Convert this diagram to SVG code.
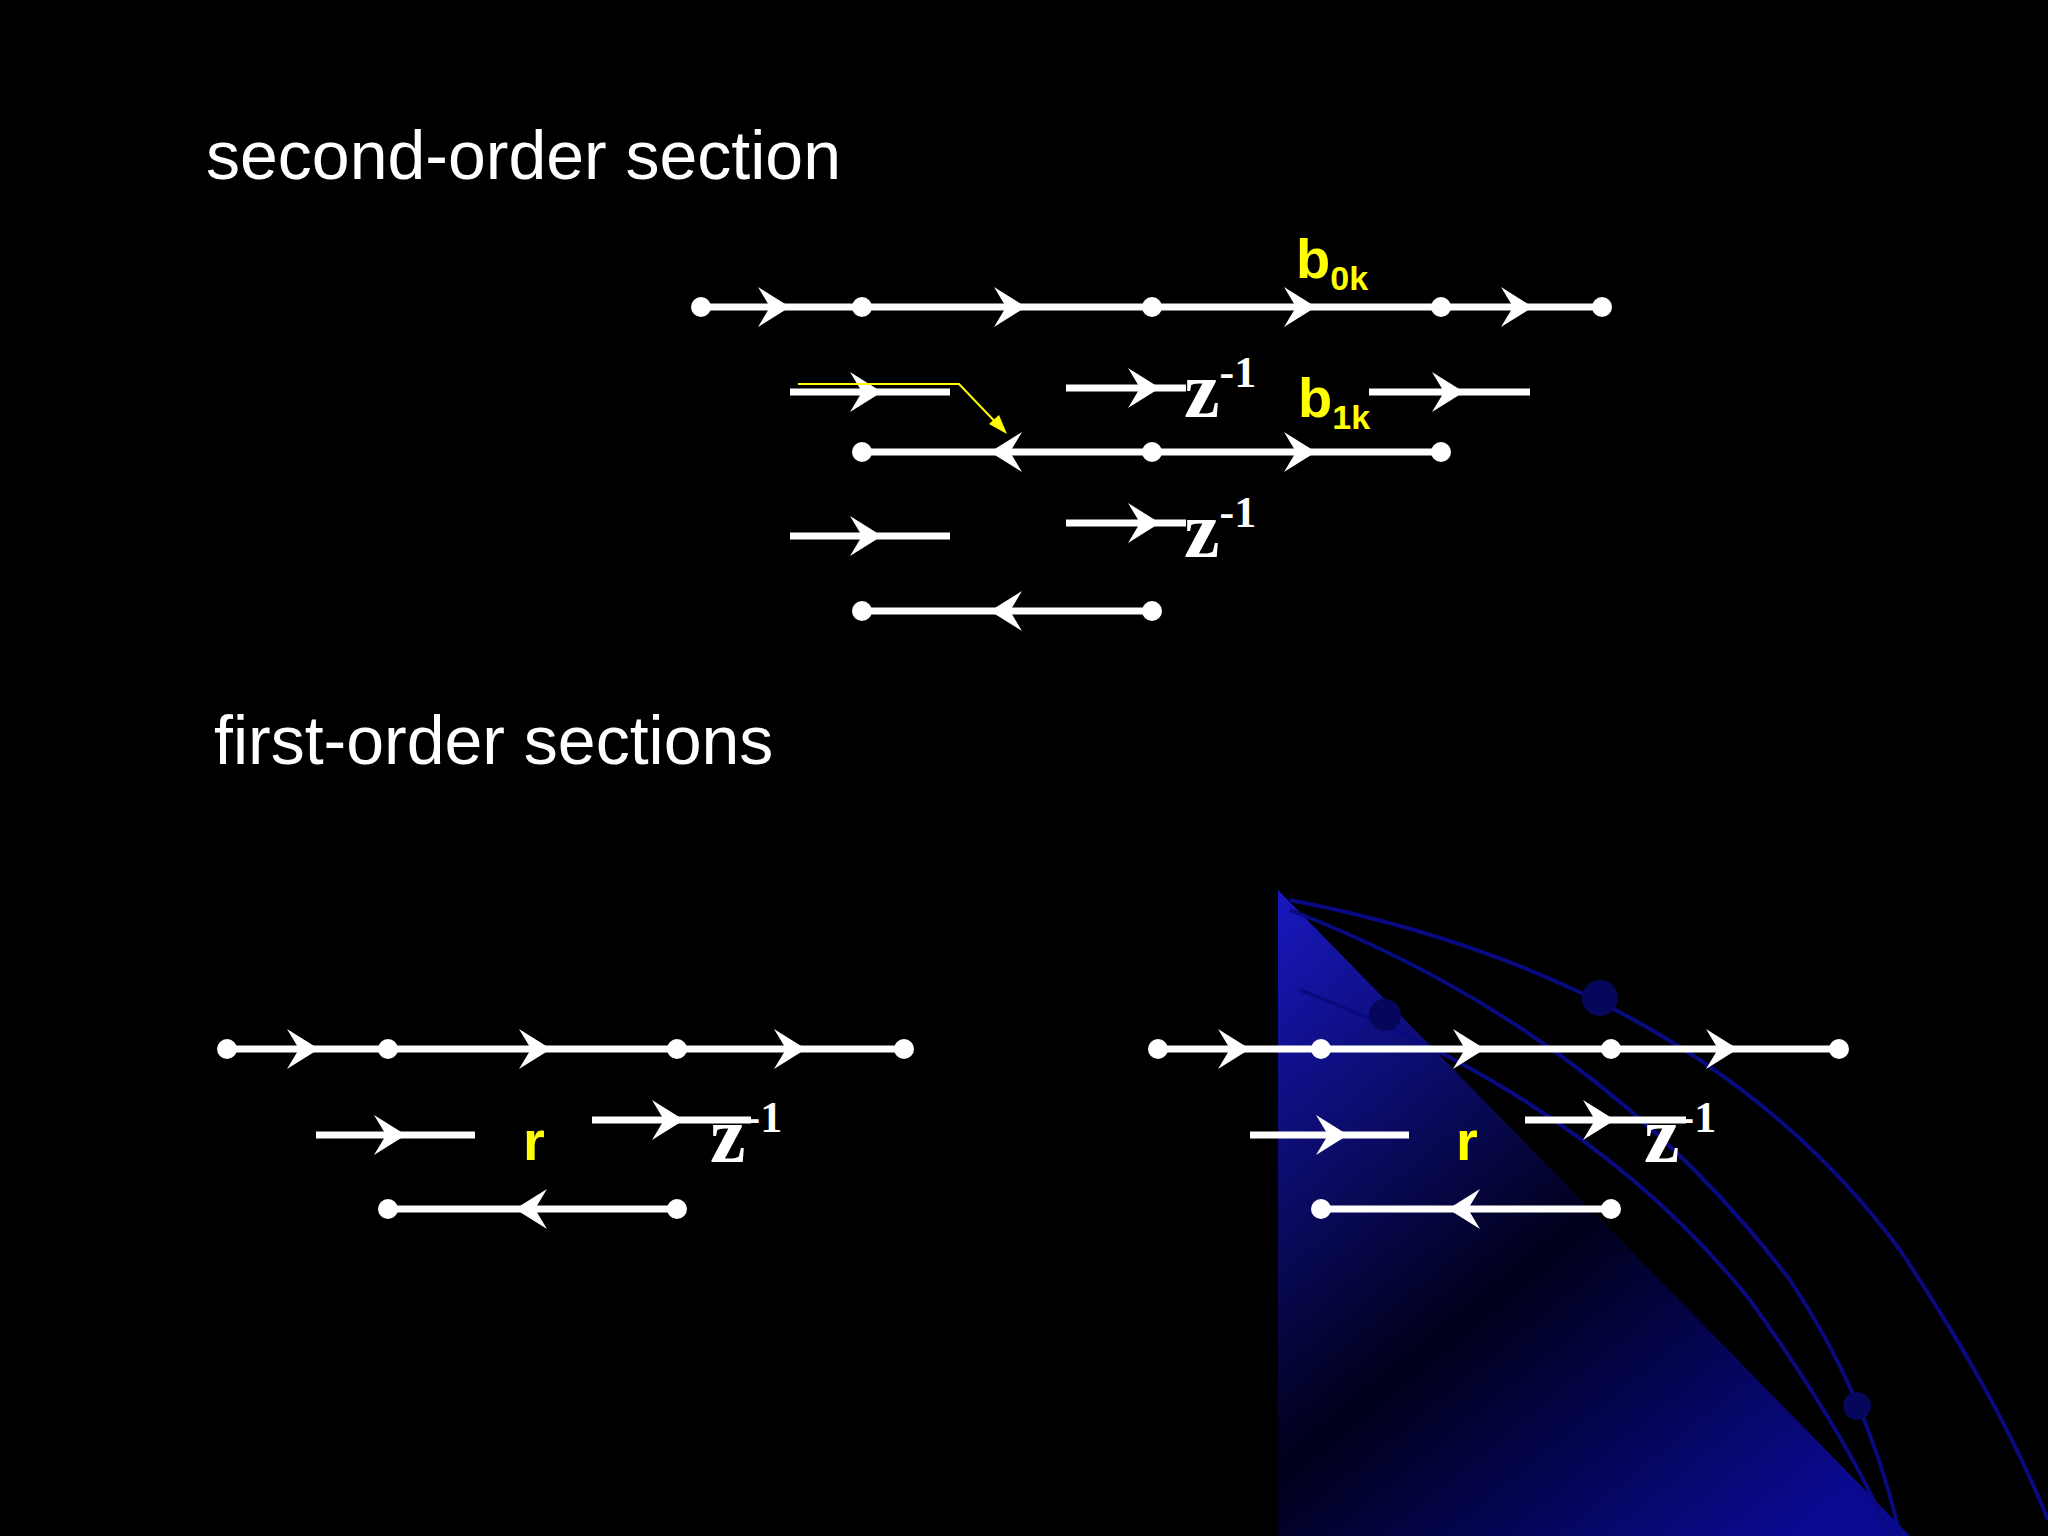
<svg xmlns="http://www.w3.org/2000/svg" width="2048" height="1536" viewBox="0 0 2048 1536">
<defs>
<style>
.ln{stroke:#fff;stroke-width:7;fill:none}
.dot{fill:#fff}
.ah{fill:#fff}
.title{font-family:"Liberation Sans",Arial,sans-serif;font-size:68px;fill:#fff}
.coef{font-family:"Liberation Sans",Arial,sans-serif;font-weight:bold;fill:#ffff00}
.z{font-family:"Liberation Serif","Times New Roman",serif;fill:#fff;font-weight:bold}
.arc{stroke:#0a0a80;stroke-width:4;fill:none}
</style>
<path id="ar" d="M-32,-20 L0,0 L-32,20 L-20,0 Z"/>
<linearGradient id="bg" x1="0" y1="0" x2="0.8" y2="1">
<stop offset="0" stop-color="#1818c0"/>
<stop offset="0.55" stop-color="#00001a"/>
<stop offset="1" stop-color="#0a0a90"/>
</linearGradient>
</defs>
<rect width="2048" height="1536" fill="#000"/>
<g id="background">
<polygon points="1278,890 1278,1536 1910,1536" fill="url(#bg)"/>
<path class="arc" d="M1290,900 Q1700,980 1900,1250 Q2000,1400 2048,1520"/>
<path class="arc" d="M1290,910 Q1600,1030 1790,1280 Q1870,1400 1900,1536"/>
<path class="arc" d="M1300,990 Q1590,1100 1750,1300 Q1850,1440 1890,1536"/>
<circle cx="1600" cy="998" r="18" fill="#06065a"/>
<circle cx="1385" cy="1015" r="16" fill="#06065a"/>
<circle cx="1857" cy="1406" r="14" fill="#06065a"/>
</g>
<text class="title" x="206" y="179">second-order section</text>
<text class="title" x="214" y="764">first-order sections</text>
<g id="connectors">
<line class="ln" x1="701" y1="307" x2="1602" y2="307"/>
<use href="#ar" class="ah" x="790" y="307"/>
<use href="#ar" class="ah" x="1026" y="307"/>
<use href="#ar" class="ah" x="1316" y="307"/>
<use href="#ar" class="ah" x="1533" y="307"/>
<line class="ln" x1="790" y1="392" x2="950" y2="392"/>
<use href="#ar" class="ah" x="882" y="392"/>
<line class="ln" x1="1066" y1="388" x2="1186" y2="388"/>
<use href="#ar" class="ah" x="1160" y="388"/>
<line class="ln" x1="1369" y1="392" x2="1530" y2="392"/>
<use href="#ar" class="ah" x="1464" y="392"/>
<polyline points="798,384 959,384 1004,431" fill="none" stroke="#ffff00" stroke-width="2"/>
<polygon points="1007,434 989,424 999,415" fill="#ffff00"/>
<line class="ln" x1="862" y1="452" x2="1441" y2="452"/>
<use href="#ar" class="ah" transform="translate(990,452) rotate(180)"/>
<use href="#ar" class="ah" x="1316" y="452"/>
<line class="ln" x1="790" y1="536" x2="950" y2="536"/>
<use href="#ar" class="ah" x="882" y="536"/>
<line class="ln" x1="1066" y1="523" x2="1186" y2="523"/>
<use href="#ar" class="ah" x="1160" y="523"/>
<line class="ln" x1="862" y1="611" x2="1152" y2="611"/>
<use href="#ar" class="ah" transform="translate(990,611) rotate(180)"/>
<line class="ln" x1="227" y1="1049" x2="904" y2="1049"/>
<use href="#ar" class="ah" x="319" y="1049"/>
<use href="#ar" class="ah" x="551" y="1049"/>
<use href="#ar" class="ah" x="806" y="1049"/>
<line class="ln" x1="316" y1="1135" x2="475" y2="1135"/>
<use href="#ar" class="ah" x="406" y="1135"/>
<line class="ln" x1="592" y1="1120" x2="751" y2="1120"/>
<use href="#ar" class="ah" x="684" y="1120"/>
<line class="ln" x1="388" y1="1209" x2="677" y2="1209"/>
<use href="#ar" class="ah" transform="translate(515,1209) rotate(180)"/>
<line class="ln" x1="1158" y1="1049" x2="1839" y2="1049"/>
<use href="#ar" class="ah" x="1250" y="1049"/>
<use href="#ar" class="ah" x="1485" y="1049"/>
<use href="#ar" class="ah" x="1738" y="1049"/>
<line class="ln" x1="1250" y1="1135" x2="1409" y2="1135"/>
<use href="#ar" class="ah" x="1348" y="1135"/>
<line class="ln" x1="1525" y1="1120" x2="1686" y2="1120"/>
<use href="#ar" class="ah" x="1615" y="1120"/>
<line class="ln" x1="1321" y1="1209" x2="1611" y2="1209"/>
<use href="#ar" class="ah" transform="translate(1448,1209) rotate(180)"/>
</g>
<g id="nodes">
<g class="dot">
<circle cx="701" cy="307" r="10"/><circle cx="862" cy="307" r="10"/><circle cx="1152" cy="307" r="10"/><circle cx="1441" cy="307" r="10"/><circle cx="1602" cy="307" r="10"/>
<circle cx="862" cy="452" r="10"/><circle cx="1152" cy="452" r="10"/><circle cx="1441" cy="452" r="10"/>
<circle cx="862" cy="611" r="10"/><circle cx="1152" cy="611" r="10"/>
<circle cx="227" cy="1049" r="10"/><circle cx="388" cy="1049" r="10"/><circle cx="677" cy="1049" r="10"/><circle cx="904" cy="1049" r="10"/>
<circle cx="388" cy="1209" r="10"/><circle cx="677" cy="1209" r="10"/>
<circle cx="1158" cy="1049" r="10"/><circle cx="1321" cy="1049" r="10"/><circle cx="1611" cy="1049" r="10"/><circle cx="1839" cy="1049" r="10"/>
<circle cx="1321" cy="1209" r="10"/><circle cx="1611" cy="1209" r="10"/>
</g>
</g>
<g id="labels">
<text class="coef" x="1296" y="278" font-size="56">b<tspan font-size="34" dy="12">0k</tspan></text>
<text class="coef" x="1298" y="417" font-size="56">b<tspan font-size="34" dy="12">1k</tspan></text>
<text class="z" x="1184" y="417" font-size="80">z<tspan font-size="44" dy="-30">-1</tspan></text>
<text class="z" x="1184" y="557" font-size="80">z<tspan font-size="44" dy="-30">-1</tspan></text>
<text class="coef" x="523" y="1160" font-size="56">r</text>
<text class="z" x="710" y="1162" font-size="80">z<tspan font-size="44" dy="-30">-1</tspan></text>
<text class="coef" x="1456" y="1160" font-size="56">r</text>
<text class="z" x="1644" y="1162" font-size="80">z<tspan font-size="44" dy="-30">-1</tspan></text>
</g>
</svg>
